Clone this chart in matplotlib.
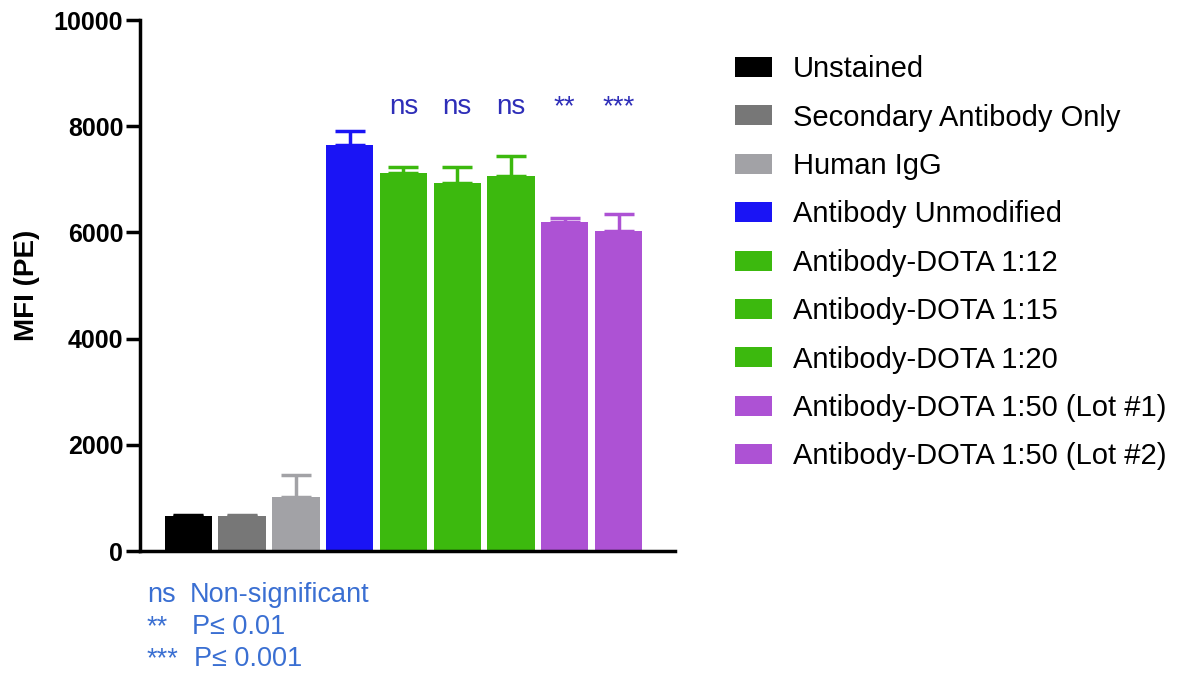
"""MFI bar chart for antibody / DOTA conjugates."""

import matplotlib

matplotlib.use("Agg")
import matplotlib.pyplot as plt
from matplotlib.patches import Patch

plt.rcParams["font.family"] = ["Liberation Sans", "DejaVu Sans"]

groups = [
    "Unstained",
    "Secondary Antibody Only",
    "Human IgG",
    "Antibody Unmodified",
    "Antibody-DOTA 1:12",
    "Antibody-DOTA 1:15",
    "Antibody-DOTA 1:20",
    "Antibody-DOTA 1:50 (Lot #1)",
    "Antibody-DOTA 1:50 (Lot #2)",
]
mfi = [650, 650, 1010, 7640, 7110, 6930, 7070, 6200, 6030]
err = [35, 30, 415, 270, 115, 295, 365, 80, 315]
colors = ["#000000", "#777777", "#a2a2a6", "#1a14f5", "#3cb90e", "#3cb90e",
          "#3cb90e", "#ad52d4", "#ad52d4"]
marks = ["", "", "", "", "ns", "ns", "ns", "**", "***"]
note_syms = ["ns", "**", "***"]
note_text = ["Non-significant", "P\u2264 0.01", "P\u2264 0.001"]


def main():
    fig = plt.figure(figsize=(11.8, 6.79), dpi=100)
    ax = fig.add_axes([0.1186, 0.1885, 0.4534, 0.782])

    x = range(len(groups))
    ax.bar(x, mfi, width=0.88, color=colors, zorder=2)
    for i in x:
        ax.errorbar(i, mfi[i], yerr=[[0], [err[i]]], fmt="none",
                    ecolor=colors[i], elinewidth=2.5, capsize=11,
                    capthick=2.5, zorder=1)
        if marks[i]:
            ax.text(i, 8360, marks[i], ha="center", va="center",
                    fontsize=20, color="#2e2eb8")

    ax.set_xlim(-0.9, 9.05)
    ax.set_ylim(0, 10000)
    ax.set_yticks(range(0, 10001, 2000))
    ax.set_xticks([])
    for side in ("top", "right"):
        ax.spines[side].set_visible(False)
    for side in ("left", "bottom"):
        ax.spines[side].set_linewidth(2.5)
    ax.tick_params(axis="y", length=10, width=2.5, labelsize=18, pad=2)
    for lab in ax.get_yticklabels():
        lab.set_fontweight("bold")
    ax.set_ylabel("MFI (PE)", fontsize=20, fontweight="bold", labelpad=10)

    handles = [Patch(facecolor=c, edgecolor="none") for c in colors]
    fig.legend(handles, groups, loc="upper left", bbox_to_anchor=(0.613, 0.936),
               frameon=False, fontsize=21, handlelength=1.27, handleheight=0.68,
               handletextpad=0.72, labelspacing=0.70, borderaxespad=0)

    for k in range(len(note_syms)):
        y = 1 - (595 + k * 32) / 679
        fig.text(147 / 1180, y, note_syms[k], fontsize=19.5, color="#3a6fd2",
                 va="center")
        fig.text((190 + 2 * k) / 1180, y, note_text[k], fontsize=19.5,
                 color="#3a6fd2", va="center")

    fig.savefig("out.png", dpi=100)


if __name__ == "__main__":
    main()
